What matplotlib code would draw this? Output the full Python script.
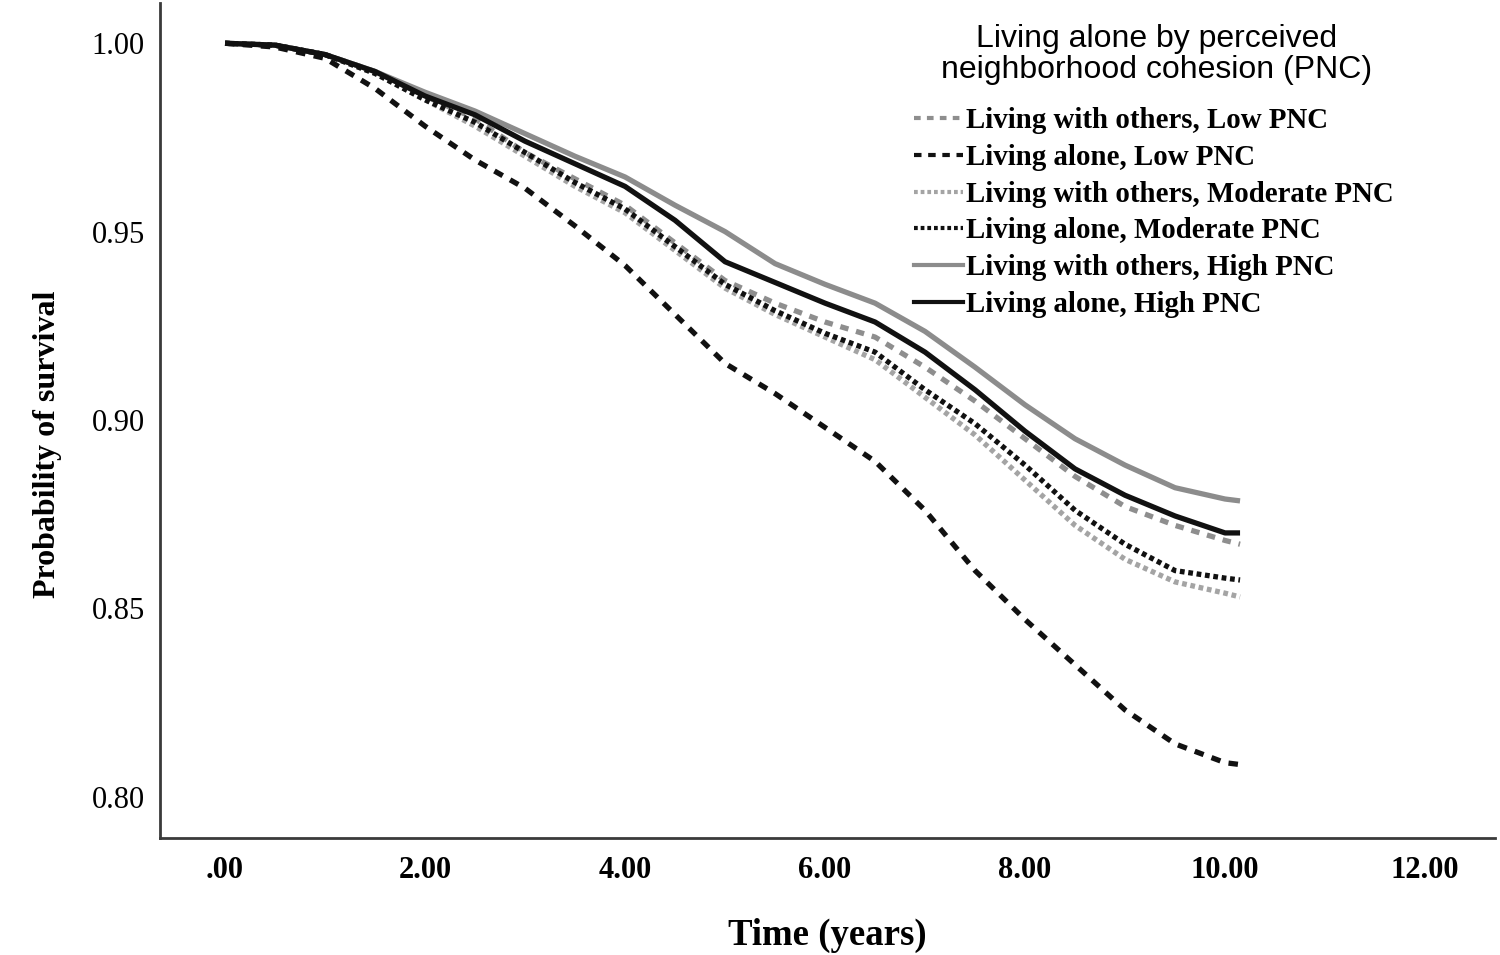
import matplotlib
matplotlib.use("Agg")
import matplotlib.pyplot as plt
from matplotlib.lines import Line2D

# ---- data ----
time_years = [0, 0.5, 1, 1.5, 2, 2.5, 3, 3.5, 4, 4.5, 5, 5.5, 6, 6.5, 7, 7.5, 8, 8.5, 9, 9.5, 10, 10.15]

others_low = [1.000, 0.9995, 0.997, 0.9925, 0.986, 0.980, 0.971, 0.964, 0.957, 0.947, 0.937, 0.931,
              0.926, 0.922, 0.914, 0.905, 0.895, 0.885, 0.877, 0.872, 0.868, 0.867]
alone_low = [1.000, 0.999, 0.996, 0.988, 0.978, 0.969, 0.9615, 0.9515, 0.941, 0.928, 0.915, 0.907,
             0.898, 0.889, 0.876, 0.860, 0.847, 0.835, 0.823, 0.814, 0.809, 0.8085]
others_mod = [1.000, 0.9995, 0.997, 0.992, 0.985, 0.978, 0.970, 0.962, 0.955, 0.945, 0.935, 0.928,
              0.922, 0.916, 0.906, 0.896, 0.884, 0.872, 0.863, 0.857, 0.854, 0.853]
alone_mod = [1.000, 0.9995, 0.997, 0.992, 0.985, 0.979, 0.971, 0.963, 0.956, 0.946, 0.936, 0.929,
             0.923, 0.918, 0.908, 0.899, 0.888, 0.876, 0.867, 0.860, 0.858, 0.8575]
others_high = [1.000, 0.9995, 0.997, 0.9925, 0.987, 0.982, 0.976, 0.970, 0.9645, 0.957, 0.950, 0.9415,
               0.936, 0.931, 0.9235, 0.914, 0.904, 0.895, 0.888, 0.882, 0.879, 0.8785]
alone_high = [1.000, 0.9995, 0.997, 0.9925, 0.986, 0.981, 0.974, 0.968, 0.962, 0.953, 0.942, 0.9365,
              0.931, 0.926, 0.918, 0.908, 0.897, 0.887, 0.880, 0.8745, 0.870, 0.870]

series_labels = ["Living with others, Low PNC", "Living alone, Low PNC",
                 "Living with others, Moderate PNC", "Living alone, Moderate PNC",
                 "Living with others, High PNC", "Living alone, High PNC"]
legend_title = "Living alone by perceived\nneighborhood cohesion (PNC)"
x_ticks = [0, 2, 4, 6, 8, 10, 12]
x_tick_labels = [".00", "2.00", "4.00", "6.00", "8.00", "10.00", "12.00"]
y_ticks = [0.80, 0.85, 0.90, 0.95, 1.00]
y_tick_labels = ["0.80", "0.85", "0.90", "0.95", "1.00"]

# ---- styles ----
series = [others_low, alone_low, others_mod, alone_mod, others_high, alone_high]
colors = ["#8e8e8e", "#111111", "#a4a4a4", "#111111", "#8c8c8c", "#111111"]
dash_styles = [(0, (1.6, 1.5)), (0, (1.8, 1.6)), (0, (0.9, 0.7)), (0, (0.9, 0.7)), "-", "-"]
zorders = [3, 4, 3, 4, 2, 5]

fig = plt.figure(figsize=(15, 9.55), dpi=100)
ax = fig.add_axes([0.1067, 0.1225, 0.89, 0.874])

for vals, c, ls, z in zip(series, colors, dash_styles, zorders):
    ax.plot(time_years, vals, color=c, linestyle=ls, linewidth=3.8, zorder=z,
            dash_capstyle="butt", solid_capstyle="butt")

ax.set_xlim(-0.65, 12.7)
ax.set_ylim(0.789, 1.0106)

ax.set_xticks(x_ticks)
ax.set_xticklabels(x_tick_labels, fontfamily="Liberation Serif", fontweight="bold", fontsize=22)
ax.set_yticks(y_ticks)
ax.set_yticklabels(y_tick_labels, fontfamily="Liberation Serif", fontsize=22)
ax.tick_params(axis="both", length=0)
ax.tick_params(axis="x", pad=13)
ax.tick_params(axis="y", pad=11)

for s in ["top", "right"]:
    ax.spines[s].set_visible(False)
for s in ["left", "bottom"]:
    ax.spines[s].set_color("#3a3a3a")
    ax.spines[s].set_linewidth(2)

ax.set_xlabel("Time (years)", fontfamily="Liberation Serif", fontweight="bold", fontsize=26.5)
ax.xaxis.set_label_coords(0.5, -0.096)
ax.set_ylabel("Probability of survival", fontfamily="Liberation Serif", fontweight="bold", fontsize=23)
ax.yaxis.set_label_coords(-0.0734, 0.472)

# legend title as separate text, legend entries below it
fig.text(1157 / 1500, 1 - 24 / 955, legend_title, ha="center", va="top", multialignment="center",
         fontfamily="Liberation Sans", fontsize=23, linespacing=1.05)

handles = [Line2D([0], [0], color=c, linestyle=ls, linewidth=3.0) for c, ls in zip(colors, dash_styles)]
leg = fig.legend(handles, series_labels, loc="upper left", bbox_to_anchor=(0.609, 1 - 107 / 955),
                 frameon=False,
                 prop={"family": "Liberation Serif", "weight": "bold", "size": 20.8},
                 handlelength=1.7, handletextpad=0.12, labelspacing=0.34, borderpad=0.0,
                 borderaxespad=0.0)

fig.savefig("out.png", dpi=100, facecolor="white")
